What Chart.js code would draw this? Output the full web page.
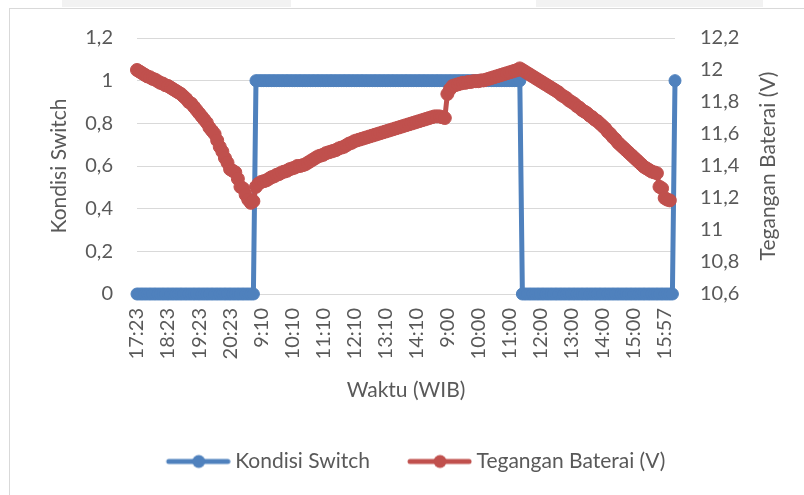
<!DOCTYPE html>
<html>
<head>
<meta charset="utf-8">
<script src="https://cdn.jsdelivr.net/npm/chart.js@4.4.1/dist/chart.umd.min.js"></script>
<style>
  body { margin: 0; background: #fff; }
  #wrap { position: relative; width: 804px; height: 495px; overflow: hidden; }
  .strip { position: absolute; top: 0; height: 7px; background: #f2f2f2; }
  #frame { position: absolute; left: 9px; top: 8px; width: 900px; height: 600px; border: 1px solid #d9d9d9; }
  #grafik { position: absolute; left: 0; top: 0; }
</style>
</head>
<body>
<div id="wrap">
  <div class="strip" style="left:62px;width:229px"></div>
  <div class="strip" style="left:536px;width:227px"></div>
  <div id="frame"></div>
  <canvas id="grafik" width="804" height="495"></canvas>
</div>
<script>
// Waktu (WIB) per hari
const waktuHari1 = [
  "17:23","17:28","17:33","17:38","17:43","17:48","17:53","17:58","18:03","18:08","18:13","18:18",
  "18:23","18:28","18:33","18:38","18:43","18:48","18:53","18:58","19:03","19:08","19:13","19:18",
  "19:23","19:28","19:33","19:38","19:43","19:48","19:53","19:58","20:03","20:08","20:13","20:18",
  "20:23","20:28","20:33","20:38","20:43","20:48","20:53","20:58","21:03","21:08"
];
const waktuHari2 = [
  "9:00","9:05",
  "9:10","9:15","9:20","9:25","9:30","9:35","9:40","9:45","9:50","9:55","10:00","10:05",
  "10:10","10:15","10:20","10:25","10:30","10:35","10:40","10:45","10:50","10:55","11:00","11:05",
  "11:10","11:15","11:20","11:25","11:30","11:35","11:40","11:45","11:50","11:55","12:00","12:05",
  "12:10","12:15","12:20","12:25","12:30","12:35","12:40","12:45","12:50","12:55","13:00","13:05",
  "13:10","13:15","13:20","13:25","13:30","13:35","13:40","13:45","13:50","13:55","14:00","14:05",
  "14:10","14:15","14:20","14:25","14:30","14:35","14:40","14:45","14:50","14:55","15:00","15:05"
];
const waktuHari3 = [
  "9:00","9:05","9:10","9:15","9:20","9:25","9:30","9:35","9:40","9:45","9:50","9:55",
  "10:00","10:05","10:10","10:15","10:20","10:25","10:30","10:35","10:40","10:45","10:50","10:55",
  "11:00","11:05","11:10","11:15","11:20","11:25","11:30","11:35","11:40","11:45","11:50","11:55",
  "12:00","12:05","12:10","12:15","12:20","12:25","12:30","12:35","12:40","12:45","12:50","12:55",
  "13:00","13:05","13:10","13:15","13:20","13:25","13:30","13:35","13:40","13:45","13:50","13:55",
  "14:00","14:05","14:10","14:15","14:20","14:25","14:30","14:35","14:40","14:45","14:50","14:55",
  "15:00","15:05","15:10","15:15","15:20","15:25","15:30","15:35","15:40","15:45","15:50","15:55",
  "15:57","16:02","16:07","16:12","16:17"
];

// Kondisi Switch (0 = off, 1 = on)
const switchHari1 = [
  0,0,0,0,0,0,0,0,0,0,0,0, 0,0,0,0,0,0,0,0,0,0,0,0,
  0,0,0,0,0,0,0,0,0,0,0,0, 0,0,0,0,0,0,0,0,0,0
];
const switchHari2 = [
  1,1,
  1,1,1,1,1,1,1,1,1,1,1,1, 1,1,1,1,1,1,1,1,1,1,1,1, 1,1,1,1,1,1,1,1,1,1,1,1,
  1,1,1,1,1,1,1,1,1,1,1,1, 1,1,1,1,1,1,1,1,1,1,1,1, 1,1,1,1,1,1,1,1,1,1,1,1
];
const switchHari3 = [
  1,1,1,1,1,1,1,1,1,1,1,1, 1,1,1,1,1,1,1,1,1,1,1,1, 1,1,1,1,1,0,0,0,0,0,0,0,
  0,0,0,0,0,0,0,0,0,0,0,0, 0,0,0,0,0,0,0,0,0,0,0,0, 0,0,0,0,0,0,0,0,0,0,0,0,
  0,0,0,0,0,0,0,0,0,0,0,0, 0,0,0,0,1
];

// Tegangan Baterai (V)
const teganganHari1 = [
  12.00,11.99,11.98,11.97,11.96,11.955,11.945,11.94,11.93,11.92,11.915,11.905,
  11.90,11.89,11.88,11.87,11.86,11.85,11.835,11.82,11.80,11.79,11.77,11.75,
  11.73,11.71,11.69,11.67,11.64,11.62,11.60,11.56,11.52,11.49,11.45,11.42,
  11.38,11.37,11.36,11.32,11.27,11.26,11.22,11.19,11.17,11.18
];
const teganganHari2 = [
  11.27,11.29,
  11.30,11.305,11.31,11.32,11.33,11.335,11.345,11.35,11.36,11.365,11.37,11.38,
  11.385,11.39,11.40,11.40,11.405,11.41,11.42,11.43,11.44,11.45,11.46,11.465,
  11.47,11.48,11.485,11.49,11.495,11.50,11.51,11.515,11.52,11.53,11.54,11.545,
  11.555,11.56,11.565,11.57,11.575,11.58,11.585,11.59,11.595,11.60,11.605,11.61,
  11.615,11.62,11.625,11.63,11.635,11.64,11.645,11.65,11.655,11.66,11.665,11.67,
  11.675,11.68,11.685,11.69,11.695,11.70,11.705,11.71,11.71,11.71,11.705,11.70
];
const teganganHari3 = [
  11.85,11.88,11.90,11.905,11.91,11.915,11.92,11.92,11.925,11.925,11.93,11.93,
  11.93,11.935,11.935,11.94,11.945,11.95,11.955,11.96,11.965,11.97,11.975,11.98,
  11.985,11.99,11.995,12.00,12.01,12.00,11.99,11.98,11.97,11.96,11.95,11.94,
  11.93,11.92,11.91,11.90,11.89,11.88,11.87,11.86,11.845,11.835,11.825,11.81,
  11.80,11.79,11.775,11.765,11.75,11.74,11.73,11.715,11.705,11.69,11.68,11.665,
  11.65,11.635,11.615,11.60,11.58,11.565,11.545,11.53,11.515,11.50,11.485,11.47,
  11.455,11.44,11.425,11.41,11.395,11.385,11.375,11.365,11.36,11.355,11.27,11.26,
  11.20,11.19,11.185,null,null
];

const labelTiap = 12; // label sumbu x tiap 12 data
const biru = "#4f81bd";
const merah = "#c0504d";
const abu = "#595959";

const waktu = waktuHari1.concat(waktuHari2, waktuHari3);
const kondisi = switchHari1.concat(switchHari2, switchHari3);
const tegangan = teganganHari1.concat(teganganHari2, teganganHari3);

const koma = (v) => String(Math.round(v * 10) / 10).replace(".", ",");

// simbol legenda: garis + lingkaran
function simbol(warna) {
  const c = document.createElement("canvas");
  c.width = 98; c.height = 16;
  const g = c.getContext("2d");
  g.strokeStyle = warna; g.lineWidth = 5; g.lineCap = "round";
  g.beginPath(); g.moveTo(36, 8); g.lineTo(95, 8); g.stroke();
  g.fillStyle = warna;
  g.beginPath(); g.arc(66, 8, 6.5, 0, Math.PI * 2); g.fill();
  return c;
}
const simbolLegenda = [simbol(biru), simbol(merah)];

// judul sumbu kanan dibaca dari bawah ke atas (seperti Excel)
const judulKanan = {
  id: "judulKanan",
  afterDraw(chart) {
    const g = chart.ctx;
    const area = chart.chartArea;
    g.save();
    g.translate(768, (area.top + area.bottom) / 2);
    g.rotate(-Math.PI / 2);
    g.font = "21px Lato";
    g.fillStyle = abu;
    g.textAlign = "center";
    g.textBaseline = "middle";
    g.fillText("Tegangan Baterai (V)", 0, 0);
    g.restore();
  }
};

Chart.defaults.font.family = "Lato";
Chart.defaults.font.size = 20;
Chart.defaults.color = abu;

const ctx = document.querySelector("#grafik");
new Chart(ctx, {
  type: "line",
  data: {
    labels: waktu,
    datasets: [{
      label: "Kondisi Switch",
      data: kondisi,
      yAxisID: "y",
      borderColor: biru,
      backgroundColor: biru,
      borderWidth: 5,
      pointRadius: 6,
      pointBorderWidth: 1,
      pointBorderColor: biru,
      tension: 0,
      clip: false,
      order: 1
    }, {
      label: "Tegangan Baterai (V)",
      data: tegangan,
      yAxisID: "y1",
      borderColor: merah,
      backgroundColor: merah,
      borderWidth: 5,
      pointRadius: 6.5,
      pointBorderWidth: 1,
      pointBorderColor: merah,
      tension: 0,
      clip: false,
      order: 0
    }]
  },
  options: {
    responsive: false,
    animation: false,
    devicePixelRatio: 1,
    layout: { padding: { left: 0, right: 0, top: 38, bottom: 13 } },
    scales: {
      x: {
        grid: { display: false },
        border: { display: false },
        ticks: {
          autoSkip: false,
          maxRotation: 90,
          minRotation: 90,
          padding: 6,
          callback: function (val, i) {
            return i % labelTiap === 0 ? this.getLabelForValue(val) : "";
          }
        },
        title: { display: true, text: "Waktu (WIB)", font: { size: 21 }, padding: { top: 0, bottom: 38 } },
        afterFit: (s) => { s.height = 147; }
      },
      y: {
        position: "left",
        min: 0,
        max: 1.2,
        grid: { color: "#d9d9d9", lineWidth: 1, drawTicks: false },
        border: { display: false },
        ticks: { stepSize: 0.2, padding: 24, callback: (v) => koma(v) },
        title: { display: true, text: "Kondisi Switch", font: { size: 21 }, padding: { top: 47, bottom: 0 } },
        afterFit: (s) => { s.width = 137; }
      },
      y1: {
        position: "right",
        min: 10.6,
        max: 12.2,
        grid: { display: false, drawTicks: false },
        border: { display: false },
        ticks: { stepSize: 0.2, padding: 25, callback: (v) => koma(v) },
        afterFit: (s) => { s.width = 129; }
      }
    },
    plugins: {
      legend: {
        position: "bottom",
        labels: {
          usePointStyle: true,
          pointStyleWidth: 86,
          padding: 10,
          color: abu,
          font: { size: 21 },
          generateLabels(chart) {
            const items = Chart.defaults.plugins.legend.labels.generateLabels(chart);
            items.forEach((it) => { it.pointStyle = simbolLegenda[it.datasetIndex]; });
            return items;
          },
          sort: (a, b) => a.datasetIndex - b.datasetIndex
        }
      },
      tooltip: { enabled: false }
    }
  },
  plugins: [judulKanan]
});
</script>
</body>
</html>
